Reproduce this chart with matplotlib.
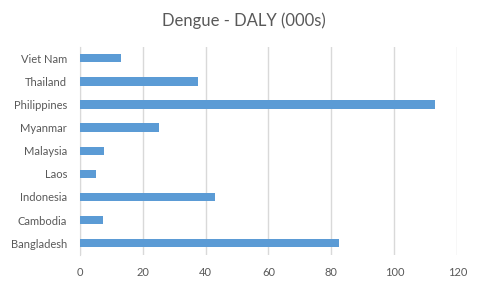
import matplotlib
matplotlib.use("Agg")
import matplotlib.pyplot as plt

countries = ["Bangladesh", "Cambodia", "Indonesia", "Laos", "Malaysia",
             "Myanmar", "Philippines", "Thailand", "Viet Nam"]
daly = [82.3, 7.4, 43.0, 5.1, 7.7, 25.2, 113.0, 37.6, 13.0]

text_color = "#595959"
grid_color = "#D9D9D9"

plt.rcParams["font.family"] = ["Lato", "DejaVu Sans"]

fig = plt.figure(figsize=(5.03, 2.89), dpi=100)
ax = fig.add_axes([0.1584, 0.1187, 0.7507, 0.7197])

ax.barh(range(len(countries)), daly, height=0.36, color="#5B9BD5", zorder=3)

ax.set_xlim(0, 120)
ax.set_ylim(-0.5, len(countries) - 0.5)
ax.set_xticks(range(0, 121, 20))
ax.set_yticks(range(len(countries)))
ax.set_yticklabels(countries)

ax.grid(axis="x", color=grid_color, linewidth=1, zorder=0)
for side in ["top", "right", "bottom"]:
    ax.spines[side].set_visible(False)
ax.spines["left"].set_color(grid_color)
ax.tick_params(axis="both", length=0, labelsize=8, colors=text_color)
ax.tick_params(axis="y", pad=9)
ax.tick_params(axis="x", pad=9)

# title is centred on the whole chart, not the plot area
fig.text(0.485, 0.928, "Dengue - DALY (000s)", fontsize=12, color=text_color,
         ha="center", va="center")

fig.savefig("out.png", dpi=100)
